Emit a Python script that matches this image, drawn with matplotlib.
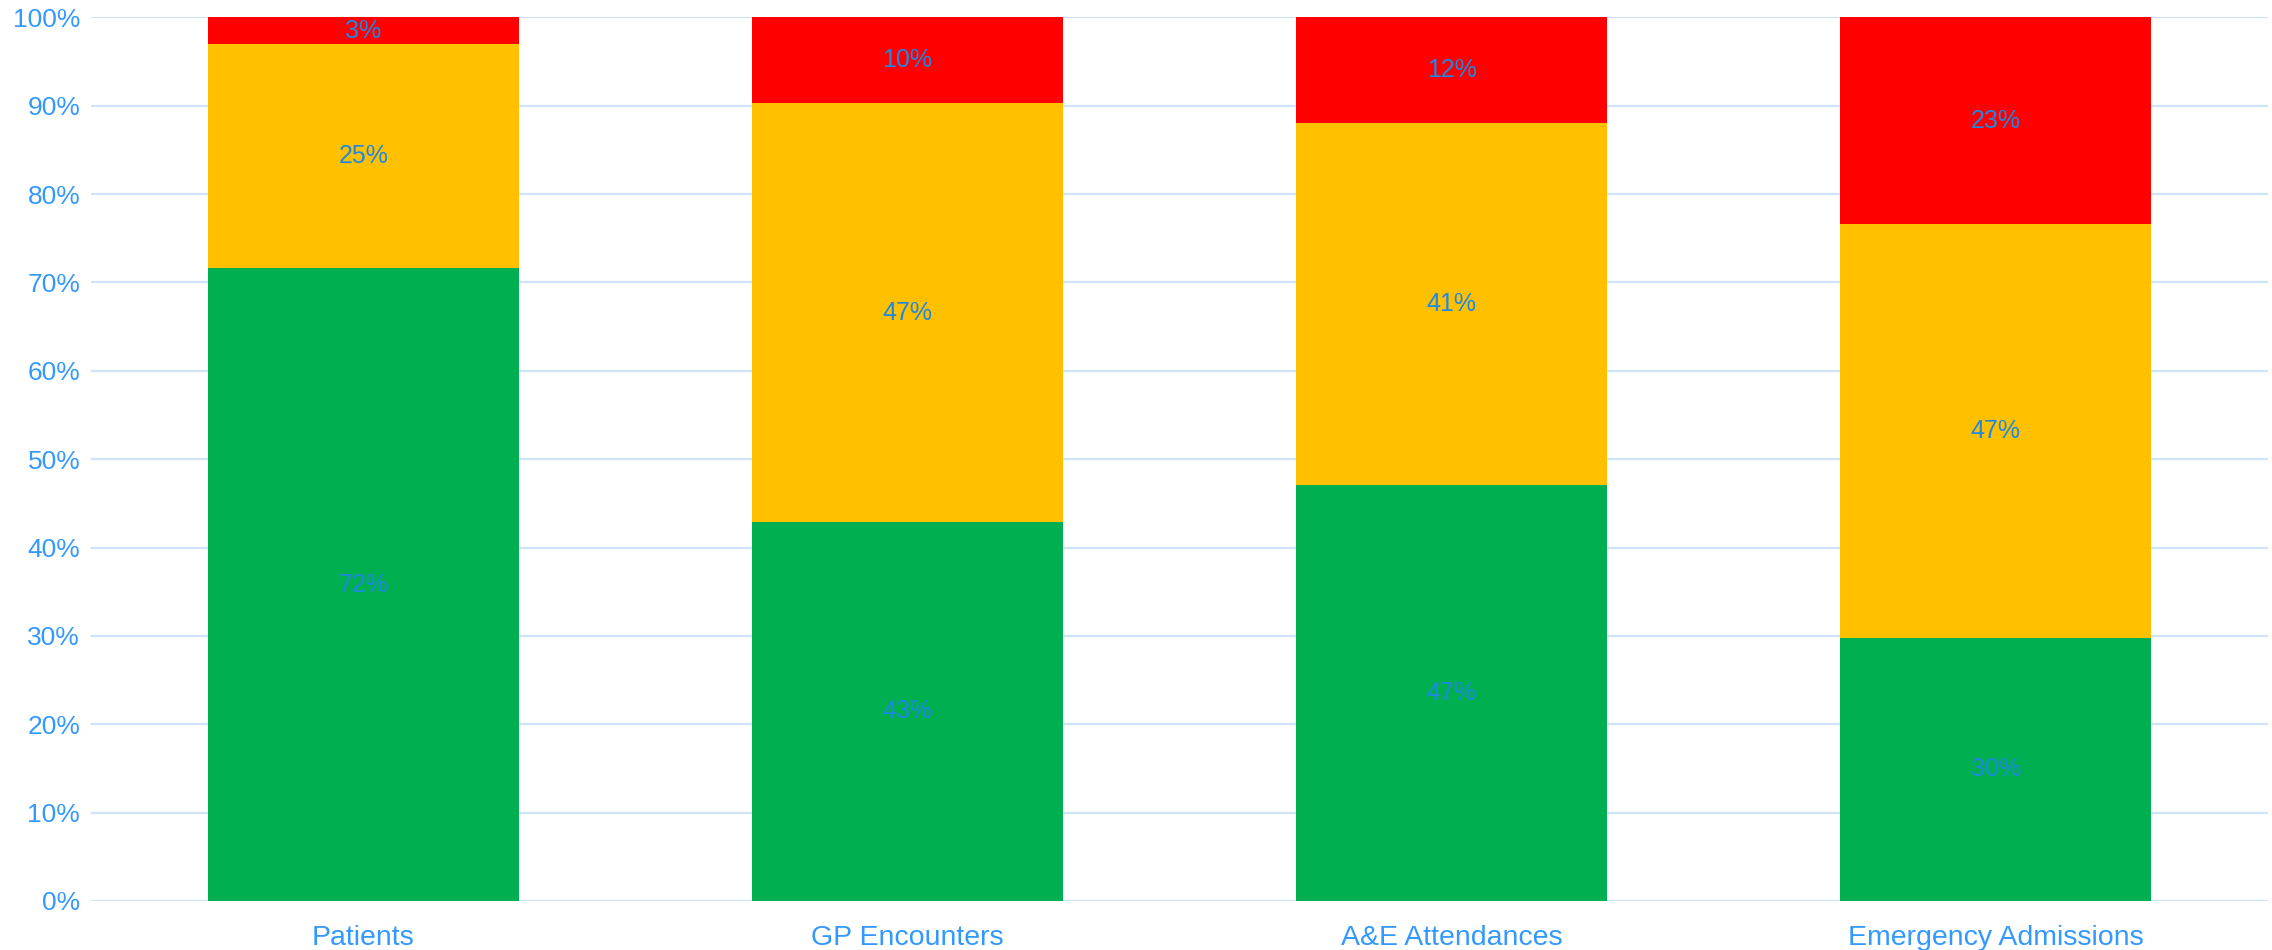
import matplotlib.pyplot as plt
import numpy as np

plt.rcParams['font.family'] = ['Liberation Sans', 'DejaVu Sans']

categories = ['Patients', 'GP Encounters', 'A&E Attendances', 'Emergency Admissions']
green = [71.6, 42.9, 47.1, 29.8]
yellow = [25.4, 47.4, 40.9, 46.8]
red = [3.0, 9.7, 12.0, 23.4]

tick_col = '#3399FF'
label_col = '#1E88E5'
grid_col = '#D0E4F9'

fig = plt.figure(figsize=(22.72, 9.5), dpi=100)
ax = fig.add_axes([0.0402, 0.0516, 0.958, 0.9301])

x = np.arange(len(categories))
w = 0.571
b1 = ax.bar(x, green, w, color='#00B050', zorder=2)
b2 = ax.bar(x, yellow, w, bottom=green, color='#FFC000', zorder=2)
bottom3 = np.array(green) + np.array(yellow)
b3 = ax.bar(x, red, w, bottom=bottom3, color='#FF0000', zorder=2)

for bars in (b1, b2, b3):
    ax.bar_label(bars, fmt='%.0f%%', label_type='center', color=label_col, fontsize=18)

ax.set_xlim(-0.5, len(categories) - 0.5)
ax.set_ylim(0, 100)
ax.set_yticks(np.arange(0, 101, 10))
ax.set_yticklabels([f'{v}%' for v in range(0, 101, 10)])
ax.set_xticks(x)
ax.set_xticklabels(categories)
ax.tick_params(axis='y', length=0, pad=8, labelcolor=tick_col, labelsize=19)
ax.tick_params(axis='x', length=0, pad=17, labelcolor=tick_col, labelsize=20.5)
ax.grid(axis='y', color=grid_col, linewidth=1.6, zorder=0)
for s in ax.spines.values():
    s.set_visible(False)

plt.savefig('out.png')
